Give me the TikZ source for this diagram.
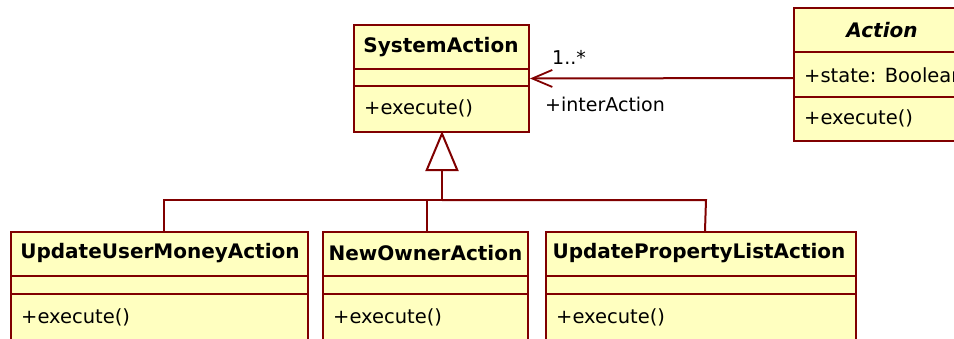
\documentclass[tikz,border=0pt]{standalone}
\usepackage{fontspec}
\setmainfont{DejaVu Sans}
\usetikzlibrary{arrows.meta,calc}
\definecolor{umlred}{RGB}{128,0,0}
\definecolor{umlfill}{RGB}{255,255,192}
\tikzset{
  classbox/.style={draw=umlred, fill=umlfill, line width=2pt, inner sep=0pt,
    anchor=north west},
  divider/.style={draw=umlred, line width=1.5pt},
  clsname/.style={inner sep=0pt, font=\bfseries\fontsize{20}{24}\selectfont},
  member/.style={inner sep=0pt, anchor=west, font=\fontsize{19.5}{23}\selectfont},
  rolelabel/.style={inner sep=0pt, anchor=west, font=\fontsize{19}{23}\selectfont},
  link/.style={draw=umlred, line width=2pt},
  assoc/.style={link, -{Straight Barb[length=20pt,width=17pt,line width=1.8pt]}},
  inherit/.style={link, -{Triangle[open,length=40pt,width=33pt,line width=2pt]}},
}
\begin{document}
\begin{tikzpicture}[x=1pt,y=-1pt]
\useasboundingbox (0,0) rectangle (954,338);
\clip (0,0) rectangle (954,338);

% SystemAction
\node[classbox, minimum width=175pt, minimum height=107pt] (sys) at (353,24) {};
\draw[divider] (353,69) -- (530,69);
\draw[divider] (353,86) -- (530,86);
\node[clsname] (sysname) at (441,47) {SystemAction};
\node[member] (sysop) at (364,108) {+execute()};

% Action (abstract)
\node[classbox, minimum width=180pt, minimum height=133pt] (act) at (793,7) {};
\draw[divider] (793,52) -- (975,52);
\draw[divider] (793,97) -- (975,97);
\node[clsname, font=\bfseries\itshape\fontsize{20}{24}\selectfont] (actname) at (882,30) {Action};
\node[member] (actattr) at (804,75) {+state: Boolean};
\node[member] (actop) at (804,118) {+execute()};

% Subclasses
\node[classbox, minimum width=297pt, minimum height=140pt] (uum) at (10,231) {};
\draw[divider] (10,276) -- (309,276);
\draw[divider] (10,294) -- (309,294);
\node[clsname] (uumname) at (160,253.5) {UpdateUserMoneyAction};
\node[member] (uumop) at (21,317) {+execute()};

\node[classbox, minimum width=205pt, minimum height=140pt] (now) at (322,231) {};
\draw[divider] (322,276) -- (529,276);
\draw[divider] (322,294) -- (529,294);
\node[clsname] (nowname) at (425.5,253.5) {NewOwnerAction};
\node[member] (nowop) at (333,317) {+execute()};

\node[classbox, minimum width=310pt, minimum height=140pt] (upl) at (545,231) {};
\draw[divider] (545,276) -- (857,276);
\draw[divider] (545,294) -- (857,294);
\node[clsname] (uplname) at (699,253.5) {UpdatePropertyListAction};
\node[member] (uplop) at (556,317) {+execute()};

% Association Action -> SystemAction
\draw[assoc] ([yshift=-3.5pt]act.west) -- (sys.east);
\node[rolelabel] (mult) at (552,57) {1..*};
\node[rolelabel] (role) at (545,104) {+interAction};

% Generalization tree
\coordinate (junc) at (442,200);
\coordinate (rightcorner) at (706,200);
\draw[inherit] (junc) -- (442,131);
\draw[link] ([xshift=4.5pt]uum.north) |- (junc);
\draw[link] ([xshift=1.5pt]now.north) -- ([xshift=1.5pt]now.north |- junc);
\draw[link] ([xshift=4pt]upl.north) -- (rightcorner) -- (junc);
\end{tikzpicture}
\end{document}
